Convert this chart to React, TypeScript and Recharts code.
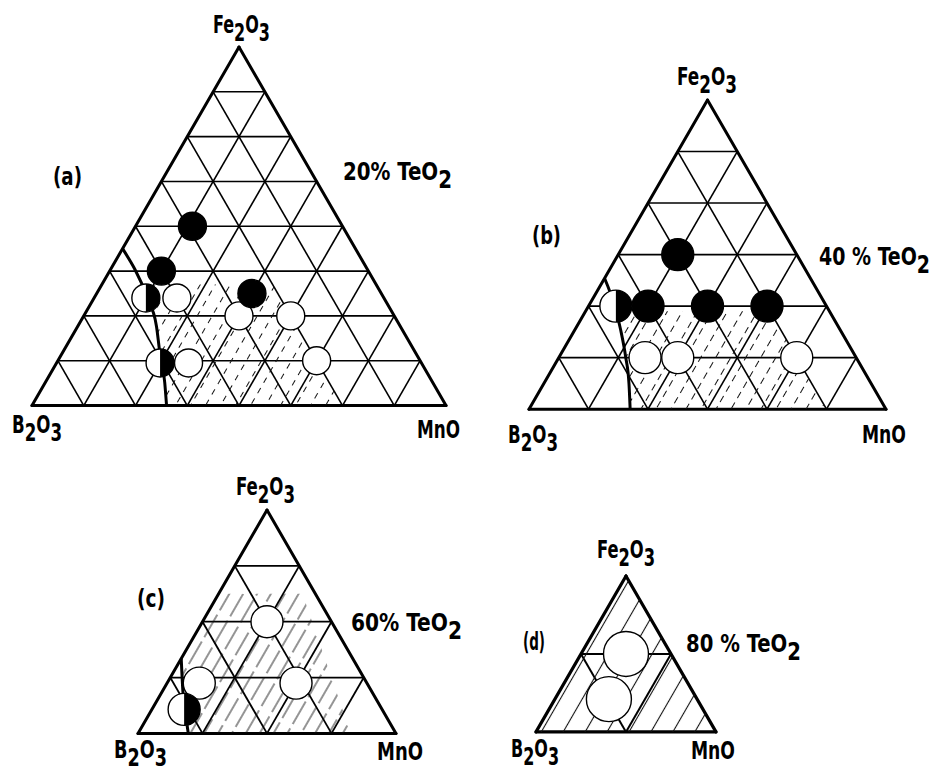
import React, { useLayoutEffect, useRef, useState } from 'react';
import { ComposedChart, XAxis, YAxis, Scatter, ReferenceLine } from 'recharts';

// Compositions in mol% (Fe2O3, MnO); B2O3 is the remainder of (100 - TeO2).
type Comp = { fe: number; mn: number };

const SQ = Math.sqrt(3) / 2;

// ---- (a) 20 mol% TeO2 ----
const totalA = 80;
const gridA = [10, 20, 30, 40, 50, 60, 70];
const glassA: Comp[] = [
  { fe: 24, mn: 16 },
  { fe: 20, mn: 30 },
  { fe: 20, mn: 40 },
  { fe: 9.5, mn: 25.5 },
  { fe: 10, mn: 50 },
];
const crystA: Comp[] = [
  { fe: 40, mn: 11 },
  { fe: 30, mn: 10 },
  { fe: 25, mn: 30 },
];
const partialA: Comp[] = [
  { fe: 24, mn: 10 },
  { fe: 9.5, mn: 20 },
];
const boundaryA: Comp[] = [
  { fe: 35, mn: 0 },
  { fe: 24, mn: 10.3 },
  { fe: 17.7, mn: 15.2 },
  { fe: 11.8, mn: 18.8 },
  { fe: 5.1, mn: 23.1 },
  { fe: 0, mn: 26 },
];
const regionA: Comp[] = [
  { fe: 27, mn: 7.5 },
  { fe: 27, mn: 33 },
  { fe: 0, mn: 60 },
  { fe: 0, mn: 26 },
  { fe: 5.1, mn: 23.1 },
  { fe: 11.8, mn: 18.8 },
  { fe: 17.7, mn: 15.2 },
  { fe: 24, mn: 10.3 },
];

// ---- (b) 40 mol% TeO2 ----
const totalB = 60;
const gridB = [10, 20, 30, 40, 50];
const glassB: Comp[] = [
  { fe: 10, mn: 14.5 },
  { fe: 10, mn: 20 },
  { fe: 10, mn: 40 },
];
const crystB: Comp[] = [
  { fe: 30, mn: 10 },
  { fe: 20, mn: 10 },
  { fe: 20, mn: 20 },
  { fe: 20, mn: 30 },
];
const partialB: Comp[] = [{ fe: 20, mn: 4.6 }];
const boundaryB: Comp[] = [
  { fe: 25.4, mn: 0 },
  { fe: 19.6, mn: 4.7 },
  { fe: 15.4, mn: 7.7 },
  { fe: 10.1, mn: 11.2 },
  { fe: 5, mn: 14.3 },
  { fe: 0, mn: 17 },
];
const regionB: Comp[] = [
  { fe: 19, mn: 5.4 },
  { fe: 19, mn: 31 },
  { fe: 0, mn: 50 },
  { fe: 0, mn: 17 },
  { fe: 5, mn: 14.3 },
  { fe: 10.1, mn: 11.2 },
  { fe: 15.4, mn: 7.7 },
];

// ---- (c) 60 mol% TeO2 ----
const totalC = 40;
const gridC = [10, 20, 30];
const glassC: Comp[] = [
  { fe: 20, mn: 10 },
  { fe: 9, mn: 5 },
  { fe: 9, mn: 20 },
];
const partialC: Comp[] = [{ fe: 4.3, mn: 5 }];
const boundaryC: Comp[] = [
  { fe: 13.4, mn: 0 },
  { fe: 7.7, mn: 3.1 },
  { fe: 3.2, mn: 5.8 },
  { fe: 0, mn: 7.8 },
];
const regionC: Comp[] = [
  { fe: 25, mn: 0 },
  { fe: 25, mn: 13 },
  { fe: 0, mn: 33 },
  { fe: 0, mn: 7.8 },
  { fe: 3.2, mn: 5.8 },
  { fe: 7.7, mn: 3.1 },
  { fe: 13.4, mn: 0 },
];

// ---- (d) 80 mol% TeO2 ----
const totalD = 20;
const gridD = [10];
const glassD: Comp[] = [
  { fe: 10, mn: 5 },
  { fe: 4.2, mn: 6 },
];
const regionD: Comp[] = [
  { fe: 20, mn: 0 },
  { fe: 0, mn: 20 },
  { fe: 0, mn: 0 },
];

// ternary composition -> cartesian (B2O3 bottom-left, MnO bottom-right, Fe2O3 apex)
const toXY = (c: Comp, total: number) => ({
  x: (c.mn + c.fe / 2) / total,
  y: (c.fe / total) * SQ,
});

function gridSegments(ticks: number[], total: number): Comp[][] {
  const segs: Comp[][] = [];
  ticks.forEach((t) => {
    segs.push([{ fe: t, mn: 0 }, { fe: t, mn: total - t }]);
    segs.push([{ fe: 0, mn: t }, { fe: total - t, mn: t }]);
    segs.push([{ fe: 0, mn: total - t }, { fe: total - t, mn: 0 }]);
  });
  return segs;
}

function outlineSegments(total: number): Comp[][] {
  return [
    [{ fe: 0, mn: 0 }, { fe: 0, mn: total }],
    [{ fe: 0, mn: total }, { fe: total, mn: 0 }],
    [{ fe: total, mn: 0 }, { fe: 0, mn: 0 }],
  ];
}

type TernaryProps = {
  total: number;
  grid: number[];
  region: Comp[];
  boundary?: Comp[];
  glass?: Comp[];
  cryst?: Comp[];
  partial?: Comp[];
  hatch: string;
  r: number;
  left: number;
  base: number;
  width: number;
  outlineW: number;
  gridW: number;
};

function Ternary(props: TernaryProps) {
  const { total, grid, region, boundary, glass, cryst, partial, hatch, r, left, base, width, outlineW, gridW } = props;
  const P = 30;
  const height = width * SQ;
  const pts = (arr: Comp[]) => arr.map((c) => toXY(c, total));
  const none = () => <g />;
  const openShape = (p: any) => (
    <circle cx={p.cx} cy={p.cy} r={r} fill="#fff" stroke="#000" strokeWidth={1.4} />
  );
  const filledShape = (p: any) => (
    <circle cx={p.cx} cy={p.cy} r={r} fill="#000" stroke="#000" strokeWidth={1.4} />
  );
  const halfShape = (p: any) => (
    <g>
      <circle cx={p.cx} cy={p.cy} r={r} fill="#fff" stroke="#000" strokeWidth={1.4} />
      <path d={`M${p.cx},${p.cy - r} A${r},${r} 0 0 1 ${p.cx},${p.cy + r} Z`} fill="#000" />
    </g>
  );
  const regionShape = (lp: any) => (
    <polygon
      points={(lp.points || []).map((q: any) => `${q.x},${q.y}`).join(' ')}
      fill={`url(#${hatch})`}
      stroke="none"
    />
  );

  return (
    <div style={{ position: 'absolute', left: left - P, top: base - height - P }}>
      <ComposedChart width={width + 2 * P} height={height + 2 * P} margin={{ top: P, right: P, bottom: P, left: P }}>
        <XAxis type="number" dataKey="x" domain={[0, 1]} hide allowDataOverflow />
        <YAxis type="number" dataKey="y" domain={[0, SQ]} hide allowDataOverflow />
        {gridSegments(grid, total).map((s, i) => (
          <ReferenceLine
            key={`g${i}`}
            segment={[toXY(s[0], total), toXY(s[1], total)]}
            stroke="#000"
            strokeWidth={gridW}
            ifOverflow="visible"
          />
        ))}
        {outlineSegments(total).map((s, i) => (
          <ReferenceLine
            key={`o${i}`}
            segment={[toXY(s[0], total), toXY(s[1], total)]}
            stroke="#000"
            strokeWidth={outlineW}
            strokeLinecap="round"
            ifOverflow="visible"
          />
        ))}
        <Scatter data={pts(region)} shape={none} line={regionShape} isAnimationActive={false} />
        {boundary && (
          <Scatter
            data={pts(boundary)}
            shape={none}
            line={{ stroke: '#000', strokeWidth: 3, fill: 'none' }}
            lineJointType="monotoneX"
            isAnimationActive={false}
          />
        )}
        {glass && <Scatter data={pts(glass)} shape={openShape} isAnimationActive={false} />}
        {cryst && <Scatter data={pts(cryst)} shape={filledShape} isAnimationActive={false} />}
        {partial && <Scatter data={pts(partial)} shape={halfShape} isAnimationActive={false} />}
      </ComposedChart>
    </div>
  );
}

const FONT = "'Liberation Sans Narrow', 'DejaVu Sans Condensed', 'Arial Narrow', sans-serif";

// text parts: [string, isSubscript]; w = width the label is squeezed to (narrow lettering)
function Formula({ x, y, parts, w, size = 24 }: { x: number; y: number; parts: [string, boolean][]; w: number; size?: number }) {
  const ref = useRef<SVGTextElement>(null);
  const [sx, setSx] = useState(0.8);
  useLayoutEffect(() => {
    if (ref.current) {
      const natural = ref.current.getComputedTextLength();
      if (natural > 0) setSx(w / natural);
    }
  }, [w]);
  let prevSub = false;
  return (
    <g transform={`translate(${x},${y}) scale(${sx},1)`}>
      <text ref={ref} x={0} y={0} fontFamily={FONT} fontWeight="bold" fontSize={size} fill="#000">
        {parts.map(([s, sub], i) => {
          const dy = sub && !prevSub ? 8 : !sub && prevSub ? -8 : 0;
          prevSub = sub;
          return (
            <tspan key={i} dy={dy}>
              {s}
            </tspan>
          );
        })}
      </text>
    </g>
  );
}

const FE: [string, boolean][] = [['Fe', false], ['2', true], ['O', false], ['3', true]];
const BO: [string, boolean][] = [['B', false], ['2', true], ['O', false], ['3', true]];
const MN: [string, boolean][] = [['MnO', false]];
const te = (p: string): [string, boolean][] => [[`${p} TeO`, false], ['2', true]];

export default function App() {
  return (
    <div style={{ position: 'absolute', left: 0, top: 0, width: 940, height: 771, background: '#fff', overflow: 'hidden' }}>
      <svg width="0" height="0" style={{ position: 'absolute' }}>
        <defs>
          <pattern id="hatchA" patternUnits="userSpaceOnUse" width="13" height="24" patternTransform="rotate(30)">
            <line x1="6.5" y1="0" x2="6.5" y2="24" stroke="#111" strokeWidth="1" strokeDasharray="6 6" />
          </pattern>
          <pattern id="hatchB" patternUnits="userSpaceOnUse" width="13" height="24" patternTransform="rotate(30)">
            <line x1="6.5" y1="2" x2="6.5" y2="26" stroke="#111" strokeWidth="1" strokeDasharray="7 5" />
          </pattern>
          <pattern id="hatchC" patternUnits="userSpaceOnUse" width="12" height="31" patternTransform="rotate(30)">
            <line x1="6" y1="0" x2="6" y2="31" stroke="#111" strokeWidth="0.9" strokeDasharray="26 5" />
          </pattern>
          <pattern id="hatchD" patternUnits="userSpaceOnUse" width="19" height="19" patternTransform="rotate(30)">
            <line x1="9.5" y1="0" x2="9.5" y2="19" stroke="#111" strokeWidth="1.1" />
          </pattern>
        </defs>
      </svg>

      <Ternary total={totalA} grid={gridA} region={regionA} boundary={boundaryA} glass={glassA} cryst={crystA}
        partial={partialA} hatch="hatchA" r={14} left={32} base={406} width={414} outlineW={3} gridW={1.6} />
      <Ternary total={totalB} grid={gridB} region={regionB} boundary={boundaryB} glass={glassB} cryst={crystB}
        partial={partialB} hatch="hatchB" r={16} left={528.5} base={409} width={357} outlineW={3} gridW={1.6} />
      <Ternary total={totalC} grid={gridC} region={regionC} boundary={boundaryC} glass={glassC}
        partial={partialC} hatch="hatchC" r={16} left={138} base={733} width={258} outlineW={3} gridW={1.8} />
      <Ternary total={totalD} grid={gridD} region={regionD} glass={glassD}
        hatch="hatchD" r={22.5} left={536} base={732} width={180} outlineW={3.2} gridW={2} />

      <svg width={940} height={771} style={{ position: 'absolute', left: 0, top: 0, pointerEvents: 'none' }}>
        <Formula x={213} y={33} parts={FE} w={57} />
        <Formula x={12} y={433} parts={BO} w={50} />
        <Formula x={417} y={438} parts={MN} w={43} />
        <Formula x={53} y={185} parts={[['(a)', false]]} w={29} />
        <Formula x={343} y={180} parts={te('20%')} w={109} />

        <Formula x={677} y={85} parts={FE} w={60} />
        <Formula x={508} y={443} parts={BO} w={50} />
        <Formula x={862} y={443} parts={MN} w={44} />
        <Formula x={532} y={244} parts={[['(b)', false]]} w={29} />
        <Formula x={819} y={265} parts={te('40 %')} w={111} />

        <Formula x={236} y={495} parts={FE} w={59} />
        <Formula x={114} y={758} parts={BO} w={53} />
        <Formula x={377} y={760} parts={MN} w={46} />
        <Formula x={137} y={607} parts={[['(c)', false]]} w={28} />
        <Formula x={351} y={631} parts={te('60%')} w={111} />

        <Formula x={597} y={558} parts={FE} w={58} />
        <Formula x={511} y={757} parts={BO} w={48} />
        <Formula x={691} y={759} parts={MN} w={44} />
        <Formula x={523} y={650} parts={[['(d)', false]]} w={22} />
        <Formula x={686} y={652} parts={te('80 %')} w={115} />
      </svg>
    </div>
  );
}
